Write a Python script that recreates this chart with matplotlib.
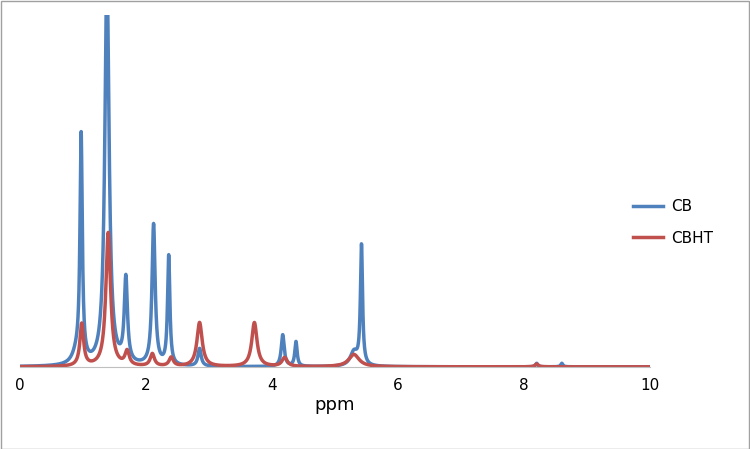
import numpy as np
import matplotlib
matplotlib.use("Agg")
import matplotlib.pyplot as plt

# Peak parameters (ppm position, height, half-width)
cb_pos = [0.90, 0.97, 1.38, 1.68, 2.12, 2.36, 2.85, 4.17, 4.38, 5.30, 5.42, 8.20, 8.60]
cb_h   = [3, 64, 112, 24, 40, 31, 5, 9, 7, 4, 34, 1, 1]
cb_w   = [0.08, 0.022, 0.04, 0.03, 0.03, 0.022, 0.03, 0.028, 0.022, 0.07, 0.02, 0.02, 0.02]

cbht_pos = [0.98, 1.40, 1.70, 2.10, 2.40, 2.85, 3.72, 4.20, 5.30, 8.20]
cbht_h   = [12, 38, 4, 3.5, 2.5, 12.5, 12.5, 2.5, 3.5, 0.8]
cbht_w   = [0.035, 0.045, 0.04, 0.04, 0.04, 0.05, 0.05, 0.05, 0.1, 0.03]

x_ticks = [0, 2, 4, 6, 8, 10]

ppm = np.linspace(0, 10, 4000)

def spectrum(pos, h, w):
    y = np.zeros_like(ppm)
    for p, a, g in zip(pos, h, w):
        y += a * g**2 / ((ppm - p)**2 + g**2)
    return y

fig = plt.figure(figsize=(7.5, 4.49), dpi=100)
fig.patches.append(plt.Rectangle((0.001, 0.001), 0.997, 0.997, transform=fig.transFigure,
                                 fill=False, edgecolor="#a0a0a0", lw=1))
ax = fig.add_axes([0.0267, 0.183, 0.84, 0.784])
ax.plot(ppm, spectrum(cb_pos, cb_h, cb_w), color="#4F81BD", lw=2.5, label="CB")
ax.plot(ppm, spectrum(cbht_pos, cbht_h, cbht_w), color="#C0504D", lw=2.5, label="CBHT")
ax.set_xlim(0, 10)
ax.set_ylim(0, 100)
ax.set_xticks(x_ticks)
ax.tick_params(axis="x", length=0, labelsize=11, pad=8)
ax.set_yticks([])
for s in ["top", "right", "left"]:
    ax.spines[s].set_visible(False)
ax.spines["bottom"].set_color("#bfbfbf")
ax.set_xlabel("ppm", fontsize=13, labelpad=2)
fig.legend(*ax.get_legend_handles_labels(), loc="center left",
           bbox_to_anchor=(0.825, 0.505), bbox_transform=fig.transFigure,
           frameon=False, fontsize=11, handlelength=2.0, handletextpad=0.5,
           labelspacing=1.1)
fig.savefig("out.png", dpi=100)
